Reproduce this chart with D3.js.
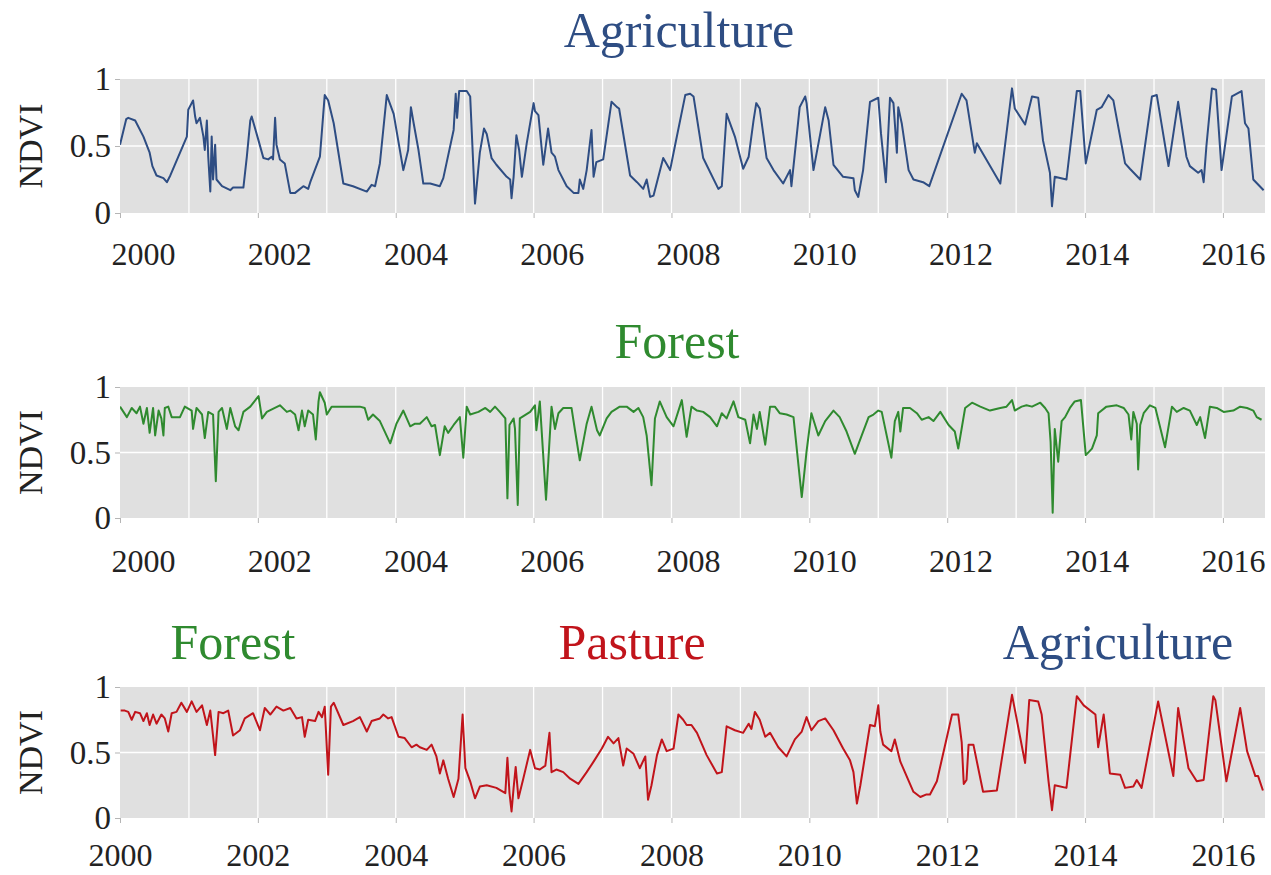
<!DOCTYPE html>
<html>
<head>
<meta charset="utf-8">
<script src="https://cdn.jsdelivr.net/npm/d3@7"></script>
<style>
  html, body { margin: 0; padding: 0; background: #ffffff; }
  svg { display: block; }
  svg text { font-family: "Liberation Serif", "Times New Roman", serif !important; }
</style>
</head>
<body>
<svg id="chart" width="1271" height="875"></svg>
<script>
// ---------- DATA (decimal year, NDVI) ----------
const yearTicks = [2000, 2002, 2004, 2006, 2008, 2010, 2012, 2014, 2016];
const gridYears = [2001, 2002, 2003, 2004, 2005, 2006, 2007, 2008, 2009, 2010, 2011, 2012, 2013, 2014, 2015, 2016];
const ndviTicks = [0, 0.5, 1];
const ndviTickLabels = ["0", "0.5", "1"];

const agriculture = [
  [2000.00,0.51],[2000.09,0.70],[2000.12,0.71],[2000.22,0.69],[2000.34,0.57],[2000.43,0.45],[2000.47,0.35],
  [2000.53,0.28],[2000.63,0.26],[2000.68,0.23],[2000.73,0.28],[2000.97,0.57],[2000.99,0.77],[2001.04,0.82],
  [2001.06,0.84],[2001.09,0.72],[2001.11,0.67],[2001.16,0.71],[2001.21,0.57],[2001.23,0.47],[2001.26,0.69],
  [2001.28,0.42],[2001.31,0.16],[2001.33,0.57],[2001.35,0.25],[2001.38,0.51],[2001.40,0.25],[2001.48,0.20],
  [2001.60,0.17],[2001.64,0.19],[2001.79,0.19],[2001.84,0.42],[2001.89,0.69],[2001.91,0.72],[2002.01,0.54],
  [2002.08,0.41],[2002.15,0.40],[2002.20,0.42],[2002.22,0.40],[2002.25,0.71],[2002.27,0.51],[2002.32,0.40],
  [2002.39,0.37],[2002.47,0.15],[2002.54,0.15],[2002.66,0.20],[2002.73,0.18],[2002.76,0.23],[2002.90,0.42],
  [2002.97,0.88],[2003.02,0.84],[2003.10,0.67],[2003.24,0.22],[2003.38,0.20],[2003.58,0.16],[2003.65,0.21],
  [2003.70,0.20],[2003.77,0.37],[2003.87,0.88],[2003.97,0.74],[2004.11,0.32],[2004.18,0.47],[2004.22,0.79],
  [2004.26,0.67],[2004.33,0.47],[2004.40,0.22],[2004.50,0.22],[2004.64,0.20],[2004.69,0.26],[2004.84,0.62],
  [2004.87,0.89],[2004.89,0.71],[2004.92,0.91],[2005.03,0.91],[2005.08,0.87],[2005.15,0.07],[2005.22,0.45],
  [2005.28,0.63],[2005.32,0.59],[2005.39,0.41],[2005.46,0.36],[2005.61,0.27],[2005.66,0.25],[2005.68,0.11],
  [2005.71,0.27],[2005.75,0.58],[2005.79,0.47],[2005.83,0.27],[2005.90,0.52],[2006.00,0.82],[2006.02,0.76],
  [2006.07,0.73],[2006.14,0.36],[2006.21,0.63],[2006.26,0.45],[2006.31,0.42],[2006.36,0.32],[2006.48,0.20],
  [2006.58,0.15],[2006.65,0.15],[2006.67,0.25],[2006.72,0.18],[2006.77,0.32],[2006.84,0.62],[2006.87,0.27],
  [2006.91,0.38],[2007.01,0.40],[2007.13,0.83],[2007.21,0.79],[2007.24,0.78],[2007.40,0.28],[2007.50,0.23],
  [2007.59,0.18],[2007.64,0.25],[2007.69,0.12],[2007.74,0.13],[2007.88,0.41],[2007.98,0.32],[2008.05,0.50],
  [2008.20,0.88],[2008.27,0.89],[2008.32,0.87],[2008.46,0.41],[2008.68,0.18],[2008.73,0.20],[2008.80,0.74],
  [2008.92,0.57],[2009.04,0.33],[2009.12,0.42],[2009.19,0.69],[2009.23,0.82],[2009.28,0.78],[2009.38,0.41],
  [2009.48,0.32],[2009.62,0.22],[2009.72,0.32],[2009.74,0.20],[2009.86,0.79],[2009.94,0.87],[2009.96,0.82],
  [2010.06,0.32],[2010.23,0.79],[2010.28,0.69],[2010.35,0.36],[2010.49,0.27],[2010.64,0.26],[2010.66,0.17],
  [2010.71,0.12],[2010.78,0.32],[2010.88,0.83],[2011.00,0.86],[2011.04,0.59],[2011.11,0.23],[2011.17,0.86],
  [2011.22,0.82],[2011.27,0.45],[2011.29,0.79],[2011.34,0.67],[2011.44,0.32],[2011.51,0.25],[2011.65,0.23],
  [2011.74,0.20],[2012.21,0.89],[2012.28,0.84],[2012.40,0.45],[2012.43,0.52],[2012.77,0.22],[2012.94,0.93],
  [2012.98,0.78],[2013.13,0.66],[2013.23,0.87],[2013.32,0.86],[2013.39,0.54],[2013.49,0.30],[2013.52,0.05],
  [2013.56,0.27],[2013.73,0.25],[2013.88,0.91],[2013.93,0.91],[2014.01,0.37],[2014.17,0.77],[2014.24,0.79],
  [2014.34,0.88],[2014.41,0.84],[2014.58,0.37],[2014.65,0.33],[2014.80,0.25],[2014.97,0.87],[2015.04,0.88],
  [2015.21,0.35],[2015.35,0.83],[2015.47,0.42],[2015.52,0.35],[2015.64,0.30],[2015.69,0.32],[2015.72,0.23],
  [2015.76,0.50],[2015.84,0.93],[2015.90,0.92],[2015.98,0.32],[2016.13,0.87],[2016.27,0.91],[2016.32,0.67],
  [2016.37,0.63],[2016.44,0.25],[2016.59,0.17]
];

const forest = [
  [2000.00,0.85],[2000.10,0.77],[2000.17,0.84],[2000.24,0.80],[2000.29,0.85],[2000.34,0.72],[2000.39,0.84],
  [2000.43,0.65],[2000.48,0.84],[2000.51,0.63],[2000.56,0.82],[2000.60,0.76],[2000.63,0.63],[2000.65,0.84],
  [2000.70,0.85],[2000.75,0.77],[2000.87,0.77],[2000.94,0.85],[2001.04,0.82],[2001.06,0.68],[2001.11,0.84],
  [2001.19,0.79],[2001.23,0.61],[2001.28,0.81],[2001.35,0.79],[2001.39,0.28],[2001.43,0.81],[2001.48,0.84],
  [2001.55,0.68],[2001.60,0.84],[2001.67,0.70],[2001.72,0.67],[2001.79,0.81],[2001.89,0.85],[2002.01,0.93],
  [2002.06,0.76],[2002.13,0.81],[2002.32,0.86],[2002.42,0.81],[2002.47,0.82],[2002.54,0.79],[2002.59,0.67],
  [2002.64,0.82],[2002.68,0.70],[2002.73,0.82],[2002.80,0.79],[2002.84,0.60],[2002.88,0.89],[2002.90,0.96],
  [2002.97,0.88],[2003.00,0.79],[2003.07,0.85],[2003.48,0.85],[2003.55,0.84],[2003.60,0.75],[2003.67,0.79],
  [2003.77,0.74],[2003.92,0.57],[2004.01,0.72],[2004.11,0.82],[2004.21,0.70],[2004.28,0.72],[2004.35,0.72],
  [2004.45,0.77],[2004.52,0.70],[2004.57,0.71],[2004.64,0.48],[2004.71,0.70],[2004.76,0.65],[2004.84,0.71],
  [2004.93,0.77],[2004.98,0.46],[2005.03,0.85],[2005.08,0.79],[2005.20,0.81],[2005.30,0.84],[2005.37,0.81],
  [2005.44,0.85],[2005.51,0.81],[2005.59,0.76],[2005.62,0.15],[2005.65,0.71],[2005.71,0.76],[2005.73,0.68],
  [2005.77,0.10],[2005.80,0.76],[2005.95,0.81],[2006.02,0.86],[2006.04,0.67],[2006.09,0.89],[2006.18,0.14],
  [2006.26,0.85],[2006.31,0.68],[2006.36,0.80],[2006.43,0.84],[2006.55,0.84],[2006.60,0.67],[2006.67,0.44],
  [2006.77,0.72],[2006.84,0.85],[2006.92,0.67],[2006.96,0.63],[2007.06,0.76],[2007.13,0.81],[2007.25,0.85],
  [2007.35,0.85],[2007.45,0.81],[2007.52,0.84],[2007.59,0.77],[2007.64,0.63],[2007.71,0.25],[2007.76,0.76],
  [2007.83,0.89],[2007.93,0.77],[2008.03,0.70],[2008.15,0.90],[2008.22,0.62],[2008.29,0.85],[2008.37,0.82],
  [2008.46,0.81],[2008.56,0.77],[2008.66,0.70],[2008.73,0.80],[2008.80,0.76],[2008.90,0.89],[2008.97,0.77],
  [2009.07,0.75],[2009.14,0.57],[2009.19,0.79],[2009.24,0.68],[2009.28,0.81],[2009.36,0.56],[2009.43,0.85],
  [2009.50,0.85],[2009.57,0.80],[2009.67,0.79],[2009.77,0.77],[2009.89,0.16],[2009.96,0.51],[2010.03,0.80],
  [2010.13,0.63],[2010.23,0.74],[2010.35,0.82],[2010.44,0.77],[2010.54,0.66],[2010.66,0.49],[2010.76,0.63],
  [2010.86,0.77],[2010.93,0.79],[2011.00,0.82],[2011.05,0.81],[2011.19,0.46],[2011.24,0.74],[2011.29,0.81],
  [2011.32,0.66],[2011.36,0.84],[2011.46,0.84],[2011.56,0.80],[2011.63,0.75],[2011.73,0.77],[2011.80,0.74],
  [2011.90,0.81],[2012.02,0.71],[2012.11,0.66],[2012.16,0.53],[2012.26,0.84],[2012.36,0.88],[2012.48,0.85],
  [2012.62,0.82],[2012.77,0.84],[2012.86,0.85],[2012.94,0.90],[2012.98,0.82],[2013.08,0.85],[2013.15,0.86],
  [2013.23,0.85],[2013.35,0.88],[2013.42,0.84],[2013.47,0.80],[2013.50,0.58],[2013.53,0.04],[2013.56,0.68],
  [2013.61,0.43],[2013.66,0.74],[2013.71,0.77],[2013.78,0.84],[2013.85,0.89],[2013.94,0.90],[2014.01,0.48],
  [2014.10,0.53],[2014.17,0.63],[2014.19,0.80],[2014.31,0.85],[2014.46,0.86],[2014.56,0.84],[2014.63,0.79],
  [2014.67,0.60],[2014.70,0.81],[2014.75,0.72],[2014.77,0.37],[2014.80,0.71],[2014.85,0.80],[2014.94,0.86],
  [2015.02,0.84],[2015.16,0.54],[2015.26,0.85],[2015.33,0.81],[2015.43,0.84],[2015.52,0.82],[2015.62,0.71],
  [2015.67,0.77],[2015.74,0.61],[2015.81,0.85],[2015.91,0.84],[2016.01,0.81],[2016.15,0.82],[2016.25,0.85],
  [2016.35,0.84],[2016.44,0.82],[2016.49,0.77],[2016.56,0.75]
];

const transition = [
  [2000.01,0.82],[2000.07,0.82],[2000.12,0.81],[2000.17,0.75],[2000.22,0.81],[2000.29,0.80],[2000.34,0.74],
  [2000.39,0.80],[2000.43,0.71],[2000.48,0.79],[2000.53,0.72],[2000.60,0.79],[2000.65,0.76],[2000.70,0.66],
  [2000.75,0.80],[2000.82,0.81],[2000.89,0.88],[2000.97,0.81],[2001.04,0.89],[2001.11,0.81],[2001.19,0.86],
  [2001.26,0.71],[2001.31,0.82],[2001.38,0.48],[2001.43,0.81],[2001.50,0.80],[2001.57,0.82],[2001.64,0.63],
  [2001.74,0.67],[2001.81,0.76],[2001.93,0.80],[2002.03,0.67],[2002.10,0.84],[2002.18,0.79],[2002.27,0.85],
  [2002.37,0.82],[2002.47,0.84],[2002.56,0.76],[2002.64,0.77],[2002.68,0.62],[2002.73,0.75],[2002.83,0.74],
  [2002.88,0.81],[2002.93,0.77],[2002.97,0.85],[2003.02,0.33],[2003.06,0.85],[2003.10,0.88],[2003.24,0.71],
  [2003.38,0.74],[2003.48,0.77],[2003.58,0.66],[2003.65,0.74],[2003.77,0.76],[2003.82,0.79],[2003.89,0.76],
  [2003.94,0.77],[2004.04,0.62],[2004.13,0.61],[2004.23,0.54],[2004.30,0.56],[2004.35,0.54],[2004.45,0.52],
  [2004.52,0.56],[2004.59,0.47],[2004.64,0.34],[2004.69,0.44],[2004.76,0.30],[2004.84,0.16],[2004.91,0.30],
  [2004.97,0.79],[2005.01,0.38],[2005.08,0.28],[2005.15,0.15],[2005.22,0.24],[2005.32,0.25],[2005.46,0.23],
  [2005.59,0.19],[2005.62,0.46],[2005.65,0.19],[2005.68,0.05],[2005.71,0.23],[2005.74,0.39],[2005.78,0.15],
  [2005.85,0.30],[2005.95,0.52],[2006.02,0.38],[2006.09,0.37],[2006.17,0.40],[2006.23,0.65],[2006.26,0.35],
  [2006.33,0.37],[2006.43,0.35],[2006.53,0.30],[2006.65,0.26],[2006.77,0.35],[2006.87,0.43],[2006.99,0.53],
  [2007.08,0.62],[2007.16,0.57],[2007.23,0.61],[2007.30,0.40],[2007.35,0.53],[2007.45,0.49],[2007.54,0.38],
  [2007.62,0.47],[2007.66,0.14],[2007.71,0.25],[2007.79,0.48],[2007.86,0.60],[2007.93,0.51],[2008.03,0.53],
  [2008.10,0.79],[2008.17,0.75],[2008.22,0.71],[2008.29,0.71],[2008.37,0.65],[2008.51,0.48],[2008.66,0.34],
  [2008.73,0.35],[2008.80,0.70],[2008.92,0.67],[2009.04,0.65],[2009.12,0.72],[2009.16,0.68],[2009.21,0.81],
  [2009.28,0.75],[2009.36,0.62],[2009.43,0.65],[2009.55,0.54],[2009.67,0.47],[2009.79,0.60],[2009.89,0.66],
  [2009.96,0.77],[2010.03,0.67],[2010.13,0.74],[2010.23,0.76],[2010.35,0.67],[2010.49,0.53],[2010.59,0.44],
  [2010.64,0.35],[2010.69,0.11],[2010.74,0.25],[2010.88,0.71],[2010.95,0.70],[2011.00,0.86],[2011.03,0.66],
  [2011.07,0.56],[2011.19,0.51],[2011.24,0.60],[2011.32,0.43],[2011.51,0.20],[2011.61,0.16],[2011.70,0.18],
  [2011.75,0.18],[2011.85,0.28],[2012.07,0.79],[2012.16,0.79],[2012.21,0.58],[2012.24,0.26],[2012.28,0.29],
  [2012.31,0.56],[2012.38,0.56],[2012.52,0.20],[2012.72,0.21],[2012.94,0.94],[2013.13,0.42],[2013.19,0.90],
  [2013.32,0.89],[2013.37,0.79],[2013.47,0.28],[2013.52,0.06],[2013.56,0.25],[2013.73,0.23],[2013.88,0.93],
  [2013.98,0.86],[2014.15,0.79],[2014.19,0.54],[2014.27,0.79],[2014.36,0.34],[2014.51,0.33],[2014.58,0.23],
  [2014.70,0.24],[2014.75,0.29],[2014.82,0.23],[2015.06,0.89],[2015.28,0.32],[2015.35,0.84],[2015.50,0.38],
  [2015.62,0.28],[2015.72,0.29],[2015.86,0.93],[2015.89,0.90],[2016.05,0.28],[2016.25,0.84],[2016.35,0.51],
  [2016.47,0.32],[2016.51,0.32],[2016.58,0.21]
];

const titles1 = ["Agriculture"];
const titles2 = ["Forest"];
const titles3 = ["Forest", "Pasture", "Agriculture"];

// ---------- STYLE / LAYOUT ----------
const SERIF = '"Liberation Serif", "Times New Roman", serif';
const COL_BLUE = "#2e4d83";
const COL_GREEN = "#2f8a2f";
const COL_RED = "#c1141b";
const BG = "#e0e0e0";
const LEFT = 120, RIGHT = 1265;
const X_DOMAIN = [2000, 2016.61];

const svg = d3.select("#chart");

const panels = [
  { top: 79, bottom: 213, data: agriculture, color: COL_BLUE, shiftedLabels: true, labelPad: 29,
    titles: [{ text: titles1[0], x: 679, y: 47, color: COL_BLUE }] },
  { top: 387, bottom: 518, data: forest, color: COL_GREEN, shiftedLabels: true, labelPad: 31,
    titles: [{ text: titles2[0], x: 677, y: 358, color: COL_GREEN }] },
  { top: 687, bottom: 818, data: transition, color: COL_RED, shiftedLabels: false, labelPad: 25,
    titles: [
      { text: titles3[0], x: 233, y: 659, color: COL_GREEN },
      { text: titles3[1], x: 632, y: 659, color: COL_RED },
      { text: titles3[2], x: 1118, y: 659, color: COL_BLUE }
    ] }
];

const x = d3.scaleLinear().domain(X_DOMAIN).range([LEFT, RIGHT]);
// tick labels of the first two panels sit slightly to the right of their ticks
const xLab = d3.scaleLinear().domain([2000, 2016]).range([143, 1233]);

panels.forEach((p, i) => {
  const y = d3.scaleLinear().domain([0, 1]).range([p.bottom, p.top]);
  const g = svg.append("g");

  g.append("rect")
    .attr("x", LEFT).attr("y", p.top)
    .attr("width", RIGHT - LEFT).attr("height", p.bottom - p.top)
    .attr("fill", BG);

  // grid
  g.selectAll(".vg").data(gridYears).enter().append("line")
    .attr("x1", d => x(d)).attr("x2", d => x(d))
    .attr("y1", p.top).attr("y2", p.bottom)
    .attr("stroke", "#ffffff").attr("stroke-width", 1.3);
  g.selectAll(".hg").data([0.5]).enter().append("line")
    .attr("x1", LEFT).attr("x2", RIGHT)
    .attr("y1", d => y(d)).attr("y2", d => y(d))
    .attr("stroke", "#ffffff").attr("stroke-width", 1.3);

  // clip
  const cid = "clip" + i;
  svg.append("clipPath").attr("id", cid).append("rect")
    .attr("x", LEFT).attr("y", p.top - 2)
    .attr("width", RIGHT - LEFT).attr("height", p.bottom - p.top + 4);

  const line = d3.line().x(d => x(d[0])).y(d => y(d[1]));
  g.append("path")
    .datum(p.data)
    .attr("clip-path", `url(#${cid})`)
    .attr("fill", "none")
    .attr("stroke", p.color)
    .attr("stroke-width", 2)
    .attr("stroke-linejoin", "round")
    .attr("d", line);

  // y axis
  const ya = g.append("g").attr("transform", `translate(${LEFT},0)`)
    .call(d3.axisLeft(y).tickValues(ndviTicks)
      .tickFormat((d, k) => ndviTickLabels[k]).tickSize(5).tickPadding(4));
  ya.attr("font-family", SERIF).attr("font-size", 33);
  ya.select(".domain").remove();
  ya.selectAll(".tick line").attr("stroke", "#b5b5b5");
  ya.selectAll(".tick text").attr("fill", "#222");

  // x axis ticks
  const xa = g.append("g").attr("transform", `translate(0,${p.bottom})`);
  if (p.shiftedLabels) {
    xa.call(d3.axisBottom(x).tickValues(yearTicks).tickFormat("").tickSize(5));
    xa.select(".domain").remove();
    xa.selectAll(".tick line").attr("stroke", "#b5b5b5");
    const xl = g.append("g").attr("transform", `translate(0,${p.bottom})`)
      .call(d3.axisBottom(xLab).tickValues(yearTicks).tickFormat(d3.format("d")).tickSize(0).tickPadding(p.labelPad));
    xl.attr("font-family", SERIF).attr("font-size", 32);
    xl.select(".domain").remove();
    xl.selectAll(".tick text").attr("fill", "#222");
  } else {
    xa.call(d3.axisBottom(x).tickValues(yearTicks).tickFormat(d3.format("d")).tickSize(5).tickPadding(p.labelPad - 5));
    xa.attr("font-family", SERIF).attr("font-size", 32);
    xa.select(".domain").remove();
    xa.selectAll(".tick line").attr("stroke", "#b5b5b5");
    xa.selectAll(".tick text").attr("fill", "#222");
  }

  // y label
  const cy = (p.top + p.bottom) / 2;
  g.append("text")
    .attr("transform", `translate(42,${cy}) rotate(-90)`)
    .attr("text-anchor", "middle")
    .attr("font-family", SERIF)
    .attr("font-size", 34)
    .attr("fill", "#222")
    .text("NDVI");

  // titles
  p.titles.forEach(t => {
    g.append("text")
      .attr("x", t.x).attr("y", t.y)
      .attr("text-anchor", "middle")
      .attr("font-family", SERIF)
      .attr("font-size", 50)
      .attr("fill", t.color)
      .text(t.text);
  });
});
</script>
</body>
</html>
